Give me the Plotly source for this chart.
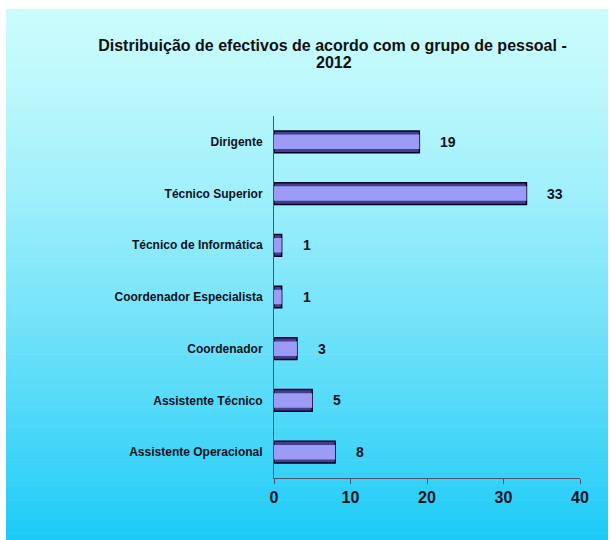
import plotly.graph_objects as go

categories = ["Dirigente", "Técnico Superior", "Técnico de Informática",
              "Coordenador Especialista", "Coordenador", "Assistente Técnico",
              "Assistente Operacional"]
values = [19, 33, 1, 1, 3, 5, 8]
x_ticks = [0, 10, 20, 30, 40]
title_line1 = "Distribuição de efectivos de acordo com o grupo de pessoal -"
title_line2 = "2012"

W, H = 610, 540
L, R, T, B = 274, 30, 116, 62
pw, ph = W - L - R, H - T - B

def px_to_paper_x(px):
    return (px - L) / pw

def py_to_paper_y(py):
    return (H - B - py) / ph

fig = go.Figure()

# dark outline/shadow bar
fig.add_trace(go.Bar(
    x=values, y=categories, orientation="h", width=0.42,
    marker=dict(color="#40408f", line=dict(color="#000022", width=1.5)),
    hoverinfo="skip", showlegend=False))
# lighter core for cylinder-like look
fig.add_trace(go.Bar(
    x=values, y=categories, orientation="h", width=0.28,
    marker=dict(color="#9c9cf6", line=dict(width=0)),
    hoverinfo="skip", showlegend=False))

annotations = []
for c, v in zip(categories, values):
    annotations.append(dict(x=v, y=c, xref="x", yref="y", text=str(v),
                            showarrow=False, xanchor="left", xshift=19,
                            font=dict(family="Liberation Sans, Arial", size=14,
                                      color="#111122", weight="bold")))
annotations.append(dict(x=px_to_paper_x(334), y=py_to_paper_y(62), xref="paper", yref="paper",
                        text=title_line2, showarrow=False, xanchor="center", yanchor="middle",
                        font=dict(family="Liberation Sans, Arial", size=16,
                                  color="#111111", weight="bold")))

# background gradient panel
shapes = []
top_c = (202, 252, 252)
bot_c = (28, 202, 247)
y0p, y1p = 9, 540
n = 80
for i in range(n):
    a = y0p + (y1p - y0p) * i / n
    b = y0p + (y1p - y0p) * (i + 1) / n
    t = (i + 0.5) / n
    t2 = t ** 1.3
    col = tuple(int(round(top_c[k] + (bot_c[k] - top_c[k]) * t2)) for k in range(3))
    shapes.append(dict(type="rect", xref="paper", yref="paper",
                       x0=px_to_paper_x(6), x1=px_to_paper_x(608),
                       y0=py_to_paper_y(b + 0.5), y1=py_to_paper_y(a),
                       fillcolor="rgb(%d,%d,%d)" % col, line=dict(width=0),
                       layer="below"))

fig.update_layout(
    width=W, height=H,
    margin=dict(l=L, r=R, t=T, b=B),
    paper_bgcolor="white", plot_bgcolor="rgba(0,0,0,0)",
    barmode="overlay",
    shapes=shapes,
    annotations=annotations,
    title=dict(text=title_line1, x=0.545, xanchor="center", y=1 - 45 / H, yanchor="middle",
               font=dict(family="Liberation Sans, Arial", size=16, color="#111111", weight="bold")),
    xaxis=dict(range=[0, 40], tickvals=x_ticks, showgrid=False, zeroline=False,
               showline=True, linecolor="#505070", linewidth=1,
               ticks="outside", ticklen=5, tickcolor="#505070",
               tickfont=dict(family="Liberation Sans, Arial", size=16,
                             color="#111122", weight="bold")),
    yaxis=dict(autorange="reversed", showgrid=False, zeroline=False,
               showline=True, linecolor="#505070", linewidth=1,
               ticks="", ticklabelstandoff=8,
               tickfont=dict(family="Liberation Sans, Arial", size=12,
                             color="#111122", weight="bold")),
    font=dict(family="Liberation Sans, Arial"),
)

fig.write_html("out.html", config={"displayModeBar": False},
               post_script="document.body.style.margin='0px';")
